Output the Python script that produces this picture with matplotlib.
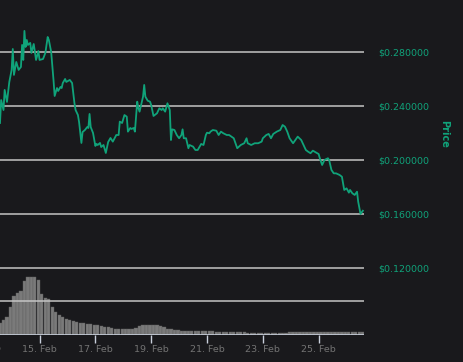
import matplotlib
matplotlib.use("Agg")
import matplotlib.pyplot as plt
import matplotlib.dates as mdates
import pandas as pd

# hours after 13 Feb 14:00 and price in USD
start = pd.Timestamp("2021-02-13 14:00")
end = start + pd.Timedelta(hours=313)

price_hours = [0, 1, 3, 4, 6, 8, 10, 11, 12, 14, 16, 18, 19, 20, 21, 22, 23, 24, 26, 27,
               29, 31, 33, 34, 37, 39, 41, 42, 44, 46, 47, 49, 50, 52, 53, 54, 56, 57, 60, 62,
               64, 65, 67, 68, 70, 71, 73, 75, 76, 77, 78, 80, 82, 83, 84, 86, 87, 89, 91, 93,
               95, 97, 100, 102, 103, 105, 107, 109, 110, 112, 113, 115, 116, 118, 119, 120, 122, 123, 124, 125,
               127, 129, 130, 132, 135, 137, 139, 140, 142, 144, 146, 147, 148, 150, 152, 154, 156, 157, 158, 160,
               162, 163, 166, 168, 170, 173, 175, 177, 178, 180, 181, 183, 186, 188, 190, 192, 195, 197, 201, 204,
               207, 210, 212, 213, 216, 219, 222, 225, 226, 229, 231, 233, 235, 238, 241, 243, 245, 247, 249, 252,
               254, 256, 259, 261, 263, 265, 267, 269, 272, 274, 275, 277, 279, 282, 283, 285, 287, 289, 292, 294,
               296, 298, 300, 301, 303, 305, 307, 308, 310, 312]
price = [0.2274, 0.2444, 0.2370, 0.2519, 0.2430, 0.2578, 0.2667, 0.2822, 0.2630, 0.2726,
         0.2667, 0.2689, 0.2852, 0.2741, 0.2956, 0.2837, 0.2889, 0.2852, 0.2867, 0.2793,
         0.2859, 0.2741, 0.2807, 0.2741, 0.2748, 0.2793, 0.2911, 0.2889, 0.2800, 0.2593,
         0.2474, 0.2533, 0.2511, 0.2541, 0.2533, 0.2570, 0.2600, 0.2578, 0.2593, 0.2570,
         0.2422, 0.2370, 0.2333, 0.2281, 0.2126, 0.2207, 0.2222, 0.2244, 0.2237, 0.2341,
         0.2244, 0.2200, 0.2104, 0.2119, 0.2111, 0.2126, 0.2096, 0.2111, 0.2052, 0.2133,
         0.2163, 0.2136, 0.2185, 0.2185, 0.2284, 0.2274, 0.2333, 0.2321, 0.2210, 0.2237,
         0.2230, 0.2237, 0.2210, 0.2432, 0.2385, 0.2358, 0.2432, 0.2469, 0.2556, 0.2469,
         0.2439, 0.2432, 0.2407, 0.2326, 0.2346, 0.2383, 0.2370, 0.2383, 0.2358, 0.2420,
         0.2370, 0.2148, 0.2227, 0.2222, 0.2185, 0.2161, 0.2185, 0.2227, 0.2161, 0.2161,
         0.2087, 0.2111, 0.2099, 0.2074, 0.2074, 0.2119, 0.2111, 0.2185, 0.2202, 0.2198,
         0.2210, 0.2222, 0.2217, 0.2185, 0.2210, 0.2198, 0.2185, 0.2185, 0.2161, 0.2087,
         0.2111, 0.2124, 0.2161, 0.2124, 0.2111, 0.2124, 0.2124, 0.2136, 0.2161, 0.2185,
         0.2193, 0.2161, 0.2193, 0.2210, 0.2222, 0.2259, 0.2247, 0.2210, 0.2161, 0.2124,
         0.2148, 0.2173, 0.2148, 0.2111, 0.2074, 0.2061, 0.2050, 0.2069, 0.2054, 0.2044,
         0.2013, 0.1963, 0.2000, 0.2013, 0.2000, 0.1926, 0.1901, 0.1901, 0.1889, 0.1876,
         0.1778, 0.1790, 0.1758, 0.1778, 0.1753, 0.1741, 0.1765, 0.1691, 0.1600, 0.1624]

# 3-hour volume bars (millions)
vol_hours = list(range(0, 313, 3))
volume = [18, 22, 27, 42, 58, 63, 66, 81, 87, 87, 87, 82, 61, 55, 54, 42, 34, 30, 27, 24,
          22, 21, 19, 18, 18, 16, 16, 15, 15, 13, 12, 12, 10, 9, 9, 9, 9, 9, 9, 10,
          13, 15, 15, 15, 15, 15, 13, 12, 9, 9, 7.5, 7.5, 6.7, 6.5, 6.5, 6.5, 6.5, 6, 6, 5.5,
          5.5, 5.5, 5.2, 5, 5, 5, 4, 4, 3.8, 4, 3.8, 3, 2.6, 2.5, 2.6, 2.5, 2.6, 2.5, 2.6, 2.5,
          2.6, 2.5, 2.6, 4, 4, 4, 4, 4, 4, 4, 4, 4, 4, 4, 4, 4, 4, 4, 4, 4,
          4, 4, 4, 4, 4]

bg = "#19191c"
green = "#10a37a"
grid = "#c4c4c4"

price_t = [start + pd.Timedelta(hours=h) for h in price_hours]
vol_t = [start + pd.Timedelta(hours=h) for h in vol_hours]

fig = plt.figure(figsize=(4.64, 3.62), dpi=100, facecolor=bg)
ax_p = fig.add_axes([0, 0.2597, 0.7845, 0.7403])
ax_v = fig.add_axes([0, 0.0746, 0.7845, 0.1851], sharex=ax_p)

for ax in (ax_p, ax_v):
    ax.set_facecolor(bg)
    for s in ax.spines.values():
        s.set_visible(False)

# price pane
for v in [0.12, 0.16, 0.20, 0.24, 0.28]:
    ax_p.axhline(v, color=grid, lw=1.1, zorder=1)
ax_p.plot(price_t, price, color=green, lw=1.3, zorder=3)
ax_p.set_ylim(0.12, 0.3185)
ax_p.set_xlim(start, end)
ax_p.yaxis.tick_right()
ax_p.set_yticks([0.12, 0.16, 0.20, 0.24, 0.28])
ax_p.set_yticklabels(["$%.6f" % v for v in [0.12, 0.16, 0.20, 0.24, 0.28]])
ax_p.tick_params(axis="y", length=0, pad=10, labelsize=6.8, labelcolor=green)
ax_p.tick_params(axis="x", bottom=False, labelbottom=False)
fig.text(444 / 464, 1 - 134 / 362, "Price", rotation=270, color=green,
         fontsize=7, fontweight="bold", ha="center", va="center")

# volume pane
ax_v.bar(vol_t, volume, width=pd.Timedelta(hours=2.75), color="#7a7a7a",
         edgecolor="#5e5e5e", linewidth=0.3, zorder=2)
for v in [50, 100]:
    ax_v.axhline(v, color=grid, lw=1.1, zorder=3)
ax_v.axhline(0, color="#c9d0dc", lw=1.2, zorder=4)
ax_v.set_ylim(0, 100)
ax_v.set_yticks([])
ax_v.xaxis.set_major_locator(mdates.DayLocator(bymonthday=range(1, 32, 2)))
ax_v.xaxis.set_major_formatter(mdates.DateFormatter("%d. %b"))
ax_v.tick_params(axis="x", length=6, width=1, color="#c9d0dc", pad=1.5,
                 labelsize=6.8, labelcolor="#737373")
# the 13 Feb label sits mostly off the left edge, as in the original
ax_v.text(pd.Timestamp("2021-02-13"), -0.2, "13. Feb", transform=ax_v.get_xaxis_transform(),
          ha="center", va="center", fontsize=6.8, color="#737373", clip_on=False)

fig.savefig("out.png", dpi=100, facecolor=bg)
